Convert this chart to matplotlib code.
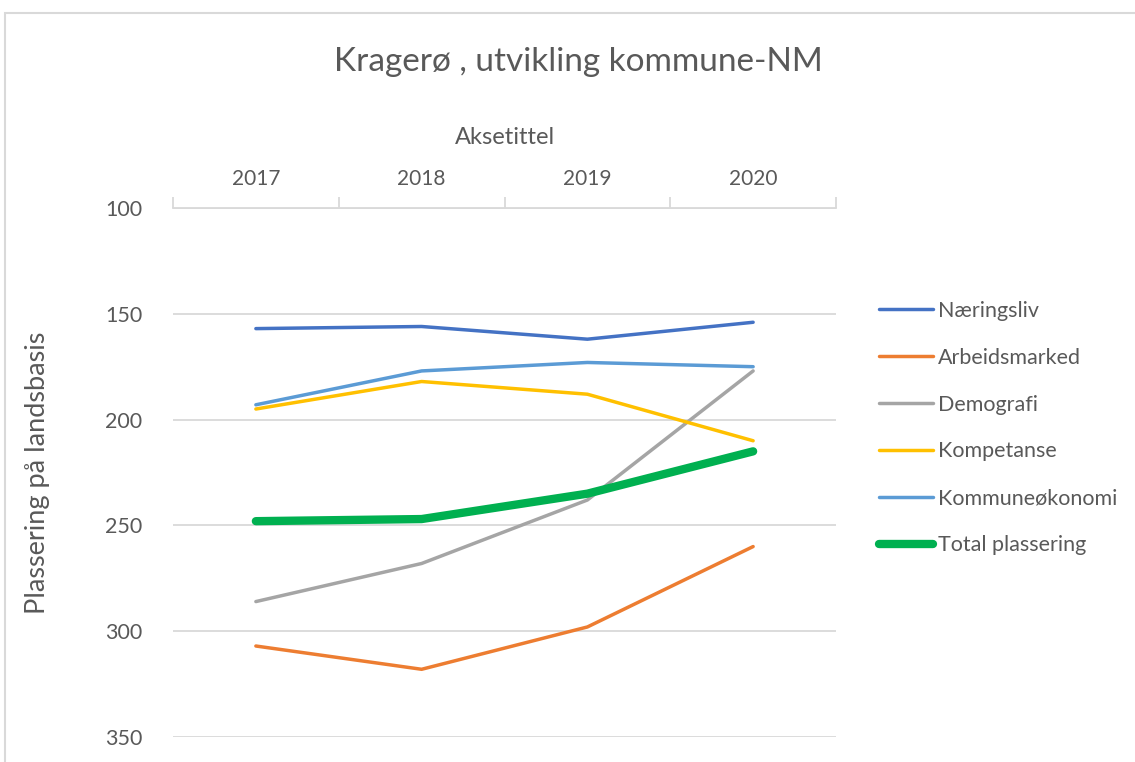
import matplotlib.pyplot as plt
import numpy as np
from matplotlib.patches import Rectangle

plt.rcParams['font.family'] = ['Lato', 'DejaVu Sans']

years = ['2017', '2018', '2019', '2020']
naeringsliv = [157, 156, 162, 154]
arbeidsmarked = [307, 318, 298, 260]
demografi = [286, 268, 238, 177]
kompetanse = [195, 182, 188, 210]
kommuneokonomi = [193, 177, 173, 175]
total = [248, 247, 235, 215]

series = [
    ('Næringsliv', naeringsliv, '#4472C4', 2.5),
    ('Arbeidsmarked', arbeidsmarked, '#ED7D31', 2.5),
    ('Demografi', demografi, '#A5A5A5', 2.5),
    ('Kompetanse', kompetanse, '#FFC000', 2.5),
    ('Kommuneøkonomi', kommuneokonomi, '#5B9BD5', 2.5),
    ('Total plassering', total, '#00B050', 6.0),
]

txt = '#595959'
grid = '#d9d9d9'

fig = plt.figure(figsize=(11.35, 7.62), dpi=100)
# outer chart border (chart is cropped at right/bottom)
fig.patches.append(Rectangle((5 / 1135, -0.1), 1.2, 1 - 13 / 762 + 0.1,
                             transform=fig.transFigure, fill=False,
                             edgecolor=grid, linewidth=1.5))

ax = fig.add_axes([173 / 1135, 1 - 737 / 762, (836 - 173) / 1135, (737 - 208) / 762])

x = np.arange(len(years))
for name, vals, col, lw in series:
    ax.plot(x, vals, color=col, linewidth=lw, label=name,
            solid_capstyle='round', solid_joinstyle='round')

ax.set_xlim(-0.5, 3.5)
ax.set_ylim(350, 100)
ax.set_yticks([100, 150, 200, 250, 300, 350])
ax.yaxis.grid(True, color=grid, linewidth=1.3)
ax.set_axisbelow(True)

ax.xaxis.tick_top()
ax.xaxis.set_label_position('top')
ax.set_xticks(x)
ax.set_xticklabels(years)
ax.set_xticks(np.arange(-0.5, 4, 1), minor=True)
ax.tick_params(axis='x', which='major', length=0, pad=14, labelsize=15, labelcolor=txt)
ax.tick_params(axis='x', which='minor', length=8, width=1.3, color=grid, direction='out')
ax.tick_params(axis='y', length=0, pad=22, labelsize=15.5, labelcolor=txt)

for s in ['left', 'right', 'bottom']:
    ax.spines[s].set_visible(False)
ax.spines['top'].set_color(grid)
ax.spines['top'].set_linewidth(1.3)

ax.set_xlabel('Aksetittel', fontsize=17, color=txt, labelpad=18)
ax.set_ylabel('Plassering på landsbasis', fontsize=19.5, color=txt, labelpad=40)

fig.text(578 / 1135, 1 - 62 / 762, 'Kragerø , utvikling kommune-NM',
         ha='center', va='center', fontsize=24, color=txt)

leg = ax.legend(loc='center left', bbox_to_anchor=(860 / 1135, 1 - 428 / 762),
                bbox_transform=fig.transFigure, frameon=False, fontsize=15.5,
                handlelength=2.5, handletextpad=0.2, labelspacing=1.25)
for t in leg.get_texts():
    t.set_color(txt)

fig.savefig('out.png', dpi=100)
